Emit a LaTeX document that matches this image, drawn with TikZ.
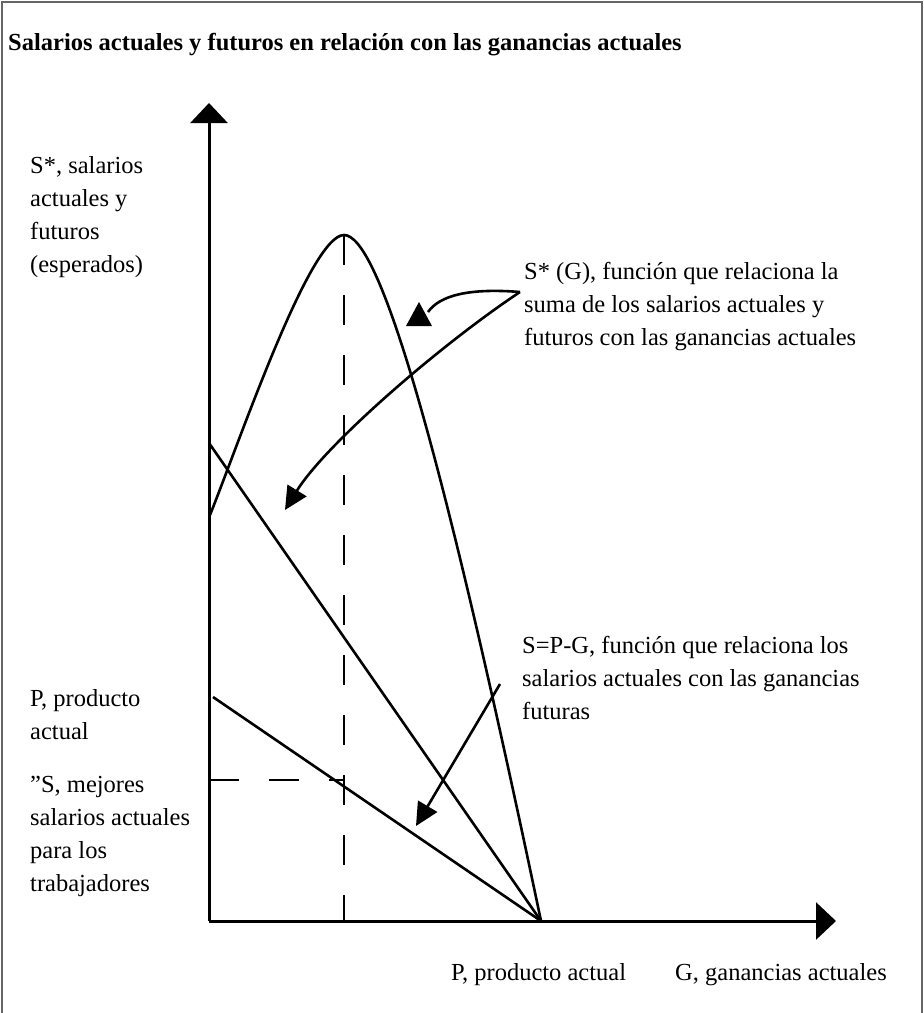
\documentclass[tikz,border=0pt]{standalone}
\usepackage{fontspec}
\setmainfont{Liberation Serif}
\usetikzlibrary{arrows.meta}
\begin{document}
\begin{tikzpicture}[x=1pt,y=-1pt,
  lbl/.style={anchor=base west, inner sep=0pt, font=\fontsize{24.5pt}{33pt}\selectfont},
  ttl/.style={anchor=base west, inner sep=0pt, font=\fontsize{24.5pt}{33pt}\selectfont\bfseries},
  axisline/.style={line width=3pt, -{Triangle[length=20pt,width=37pt]}},
  curveline/.style={line width=2.6pt},
  dashline/.style={line width=2.6pt, dash pattern=on 30pt off 30pt},
  pointer/.style={line width=2.6pt, -{Triangle[length=23pt,width=22pt]}},
  framebox/.style={line width=2pt, draw=black!60}]
\useasboundingbox (0,0) rectangle (924,1013);
\draw[framebox] (2,1013) -- (2,2) -- (922,2) -- (922,1013);
\node[ttl] (title) at (8,50) {Salarios actuales y futuros en relación con las ganancias actuales};
% geometry
\coordinate (O) at (209,921);
\coordinate (Ytip) at (209,103);
\coordinate (Xtip) at (836,921);
\coordinate (peak) at (344,235);
\coordinate (pstart) at (210,515);
\coordinate (P) at (541,921);
\coordinate (Pl) at (209,443);
\coordinate (Sl) at (213,697);
\coordinate (dvb) at (344,921);
\coordinate (dhl) at (209,780);
\coordinate (dhr) at (344,780);
\draw[axisline] (O) -- (Ytip);
\draw[axisline] (O) -- (Xtip);
\draw[curveline] (pstart) .. controls (240,440) and (310,235) .. (peak)
   .. controls (378,235) and (437,425) .. (P);
\draw[curveline] (Pl) -- (P);
\draw[curveline] (Sl) -- (P);
\draw[dashline] (peak) -- (dvb);
\draw[dashline] (dhl) -- (dhr);
% pointers
\coordinate (srcA) at (520,292);
\coordinate (tipA) at (285,510);
\coordinate (endB) at (428,312);
\draw[pointer] (srcA) .. controls (440,345) and (325,445) .. (tipA);
\draw[curveline] (srcA) .. controls (470,288) and (440,295) .. (endB);
\fill (419,302) -- (406,326) -- (432,326) -- cycle;
\coordinate (srcC) at (500,684);
\coordinate (tipC) at (416,826);
\draw[pointer] (srcC) -- (tipC);
% left labels
\node[lbl] (l1) at (30,173) {S*, salarios};
\node[lbl] (l2) at (30,206) {actuales y};
\node[lbl] (l3) at (30,239) {futuros};
\node[lbl] (l4) at (30,272) {(esperados)};
\node[lbl] (p1) at (30,706) {P, producto};
\node[lbl] (p2) at (30,739) {actual};
\node[lbl] (s1) at (30,792) {"S, mejores};
\node[lbl] (s2) at (30,825) {salarios actuales};
\node[lbl] (s3) at (30,858) {para los};
\node[lbl] (s4) at (30,891) {trabajadores};
% right labels
\node[lbl] (r1) at (524,279) {S* (G), función que relaciona la};
\node[lbl] (r2) at (524,312) {suma de los salarios actuales y};
\node[lbl] (r3) at (524,345) {futuros con las ganancias actuales};
\node[lbl] (q1) at (522,653) {S=P-G, función que relaciona los};
\node[lbl] (q2) at (522,686) {salarios actuales con las ganancias};
\node[lbl] (q3) at (522,719) {futuras};
% bottom labels
\node[lbl] (b1) at (451,980) {P, producto actual};
\node[lbl] (b2) at (675,980) {G, ganancias actuales};
\end{tikzpicture}
\end{document}
